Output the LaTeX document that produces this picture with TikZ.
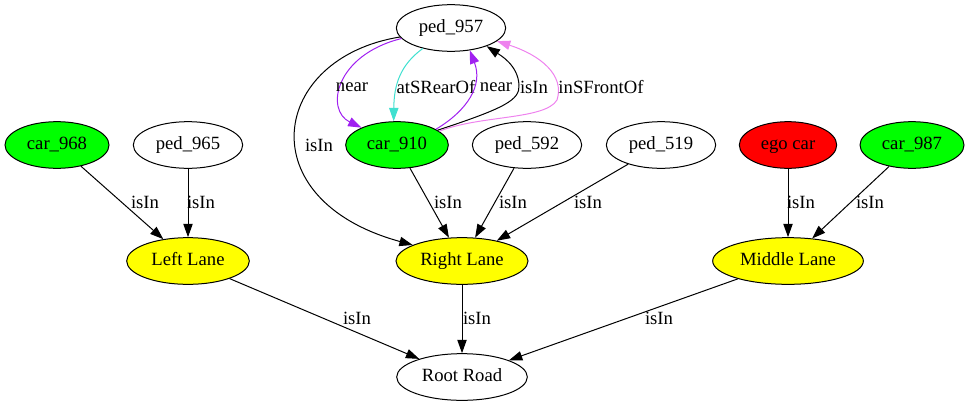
\documentclass[tikz,border=0pt]{standalone}
\usepackage{fontspec}
\setmainfont{Liberation Serif}
\usetikzlibrary{shapes.geometric,arrows.meta}
\definecolor{gvgreen}{HTML}{00FF00}
\definecolor{gvred}{HTML}{FF0000}
\definecolor{gvyellow}{HTML}{FFFF00}
\definecolor{gvpurple}{HTML}{A020F0}
\definecolor{gvturq}{HTML}{40E0D0}
\definecolor{gvviolet}{HTML}{EE82EE}

\begin{document}
\begin{tikzpicture}[x=0.75pt,y=-0.75pt,
    ent/.style={ellipse,draw,line width=0.75pt,minimum height=35pt,inner sep=0pt,text height=10pt,text depth=3pt,font=\fontsize{14}{16}\selectfont},
    rel/.style={-{Triangle[length=10pt,width=7pt]},line width=0.75pt},
    lab/.style={font=\fontsize{14}{16}\selectfont,inner sep=0pt}]
\useasboundingbox (0,0) rectangle (969,407);
%top row
    \node[ent,minimum width=82pt] (ped957) at (451,28) {ped\_957};
    \node[ent,fill=gvgreen,minimum width=78pt] (car968) at (57,145) {car\_968};
    \node[ent,minimum width=82pt] (ped965) at (188,145) {ped\_965};
    \node[ent,fill=gvgreen,minimum width=77pt] (car910) at (397,145) {car\_910};
    \node[ent,minimum width=82pt] (ped592) at (527,145) {ped\_592};
    \node[ent,minimum width=82pt] (ped519) at (661,145) {ped\_519};
    \node[ent,fill=gvred,minimum width=73pt] (ego) at (788,145) {ego car};
    \node[ent,fill=gvgreen,minimum width=78pt] (car987) at (912,145) {car\_987};
%lanes
    \node[ent,fill=gvyellow,minimum width=92pt] (LL) at (188,261) {Left Lane};
    \node[ent,fill=gvyellow,minimum width=99pt] (RL) at (462,261) {Right Lane};
    \node[ent,fill=gvyellow,minimum width=113pt] (ML) at (788,261) {Middle Lane};
    \node[ent,minimum width=98pt] (RR) at (462,377) {Root Road};

\draw [rel] (car968) to (LL); \node[lab] at (145,202) {isIn};
\draw [rel] (ped965) to (LL); \node[lab] at (201,202) {isIn};
\draw [rel] (car910) to (RL); \node[lab] at (448,202) {isIn};
\draw [rel] (ped592) to (RL); \node[lab] at (513,202) {isIn};
\draw [rel] (ped519) to (RL); \node[lab] at (588,202) {isIn};
\draw [rel] (ego) to (ML); \node[lab] at (801,202) {isIn};
\draw [rel] (car987) to (ML); \node[lab] at (870,202) {isIn};
\draw [rel] (LL) to (RR); \node[lab] at (357,318) {isIn};
\draw [rel] (RL) to (RR); \node[lab] at (477,318) {isIn};
\draw [rel] (ML) to (RR); \node[lab] at (659,318) {isIn};

\draw [rel] (ped957.190) .. controls (270,58) and (248,200) .. (RL.162);
\node[lab] at (319,145) {isIn};
\draw [rel,gvpurple] (ped957.192) .. controls (335,55) and (325,110) .. (car910.154);
\node[lab] at (352,87) {near};
\draw [rel,gvturq] (ped957.216) .. controls (400,65) and (394,85) .. (car910.98);
\node[lab] at (436,87) {atSRearOf};
\draw [rel,gvpurple] (car910.22) .. controls (468,110) and (483,85) .. (ped957.310);
\node[lab] at (496,87) {near};
\draw [rel] (car910.20) .. controls (505,108) and (520,100) .. (519,85) .. controls (518,65) and (500,55) .. (ped957.333);
\node[lab] at (534,87) {isIn};
\draw [rel,gvviolet] (car910.18) .. controls (480,115) and (545,120) .. (557,100) .. controls (565,75) and (540,55) .. (ped957.344);
\node[lab] at (601,87) {inSFrontOf};
  \end{tikzpicture}
\end{document}
